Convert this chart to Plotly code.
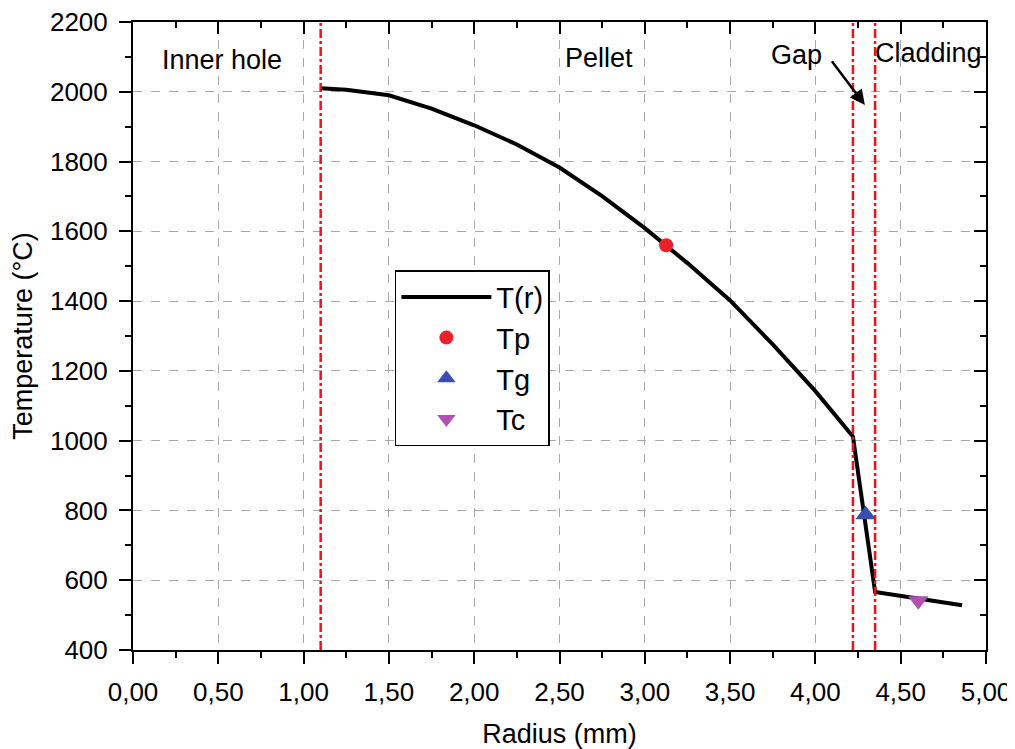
import plotly.graph_objects as go

# ---- data ----
radius_mm = [1.10, 1.25, 1.50, 1.75, 2.00, 2.25, 2.50, 2.75, 3.00, 3.25, 3.50, 3.75, 4.00, 4.22, 4.35, 4.60, 4.86]
temperature_c = [2010, 2006, 1990, 1952, 1904, 1849, 1783, 1701, 1609, 1509, 1402, 1276, 1142, 1012, 566, 546, 528]

tp_r, tp_t = [3.125], [1560]
tg_r, tg_t = [4.295], [788]
tc_r, tc_t = [4.603], [541]

boundaries = [1.10, 4.22, 4.35]

region_labels = ["Inner hole", "Pellet", "Gap", "Cladding"]
region_x = [0.52, 2.73, 3.89, 4.66]
region_y = [2090, 2098, 2106, 2110]

arrow_head = (4.29, 1962)
arrow_tail = (4.09, 2092)

x_ticks = [0, 0.5, 1.0, 1.5, 2.0, 2.5, 3.0, 3.5, 4.0, 4.5, 5.0]
y_ticks = [400, 600, 800, 1000, 1200, 1400, 1600, 1800, 2000, 2200]

FONT = "Liberation Sans, Arial, sans-serif"

fig = go.Figure()
fig.add_trace(go.Scatter(x=radius_mm, y=temperature_c, mode="lines", name="T(r)",
                         line=dict(color="black", width=4)))
fig.add_trace(go.Scatter(x=tp_r, y=tp_t, mode="markers", name="Tp",
                         marker=dict(symbol="circle", size=14, color="#e8222b")))
fig.add_trace(go.Scatter(x=tg_r, y=tg_t, mode="markers", name="Tg",
                         marker=dict(symbol="triangle-up", size=18, color="#3a4db0")))
fig.add_trace(go.Scatter(x=tc_r, y=tc_t, mode="markers", name="Tc",
                         marker=dict(symbol="triangle-down", size=18, color="#b24fb3")))
# empty trace so the mirrored top/right frame axes are drawn
fig.add_trace(go.Scatter(x=[], y=[], xaxis="x2", yaxis="y2", showlegend=False, hoverinfo="skip"))

for b in boundaries:
    fig.add_vline(x=b, line=dict(color="#e8141c", width=2.5, dash="dashdot"), layer="above")

for txt, xx, yy in zip(region_labels, region_x, region_y):
    fig.add_annotation(x=xx, y=yy, text=txt, showarrow=False, xanchor="center", yanchor="middle",
                       font=dict(family=FONT, size=27, color="black"))

fig.add_annotation(x=arrow_head[0], y=arrow_head[1], ax=arrow_tail[0], ay=arrow_tail[1],
                   axref="x", ayref="y", text="", showarrow=True,
                   arrowhead=2, arrowsize=1.2, arrowwidth=2.5, arrowcolor="black")

grid = dict(showgrid=True, gridcolor="#a8a8a8", gridwidth=1, griddash="dash")
common = dict(showline=True, linecolor="black", linewidth=2, zeroline=False, automargin=False,
              tickfont=dict(family=FONT, size=26, color="black"), ticks="outside",
              ticklen=12, tickwidth=2, tickcolor="black", ticklabeloverflow="allow")
frame = dict(showline=True, linecolor="black", linewidth=2, ticks="inside", ticklen=12, tickwidth=2,
             tickcolor="black", showticklabels=False, showgrid=False, zeroline=False, automargin=False)

# the page body adds an 8px offset, so margins are compensated
fig.update_layout(
    width=1015, height=749,
    margin=dict(l=125, r=37, t=14, b=107, autoexpand=False),
    paper_bgcolor="white", plot_bgcolor="white",
    separators=", ",
    font=dict(family=FONT, color="black"),
    xaxis=dict(range=[0, 5], tickvals=x_ticks, tickformat=".2f",
               title=dict(text="Radius (mm)", font=dict(family=FONT, size=27), standoff=18),
               minor=dict(ticks="outside", ticklen=6, tickwidth=2, tickcolor="black", dtick=0.25, showgrid=False),
               ticklabelstandoff=6, **grid, **common),
    yaxis=dict(range=[400, 2200], tickvals=y_ticks, tickformat="d",
               title=dict(text="Temperature (°C)", font=dict(family=FONT, size=27), standoff=10),
               minor=dict(ticks="outside", ticklen=6, tickwidth=2, tickcolor="black", dtick=100, showgrid=False),
               ticklabelstandoff=6, **grid, **common),
    xaxis2=dict(range=[0, 5], overlaying="x", side="top", anchor="y2", tickvals=x_ticks,
                minor=dict(ticks="inside", ticklen=6, tickwidth=2, tickcolor="black", dtick=0.25), **frame),
    yaxis2=dict(range=[400, 2200], overlaying="y", side="right", anchor="x2", tickvals=y_ticks,
                minor=dict(ticks="inside", ticklen=6, tickwidth=2, tickcolor="black", dtick=100), **frame),
    legend=dict(x=0.307, y=0.605, xanchor="left", yanchor="top", bgcolor="white",
                bordercolor="black", borderwidth=1.5, font=dict(family=FONT, size=29, color="black"),
                itemwidth=90, tracegroupgap=0),
    showlegend=True,
)

fig.write_html("out.html")
